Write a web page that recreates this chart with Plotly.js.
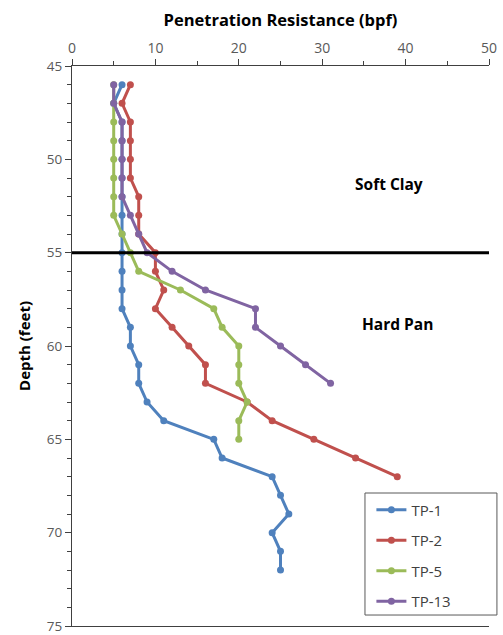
<!DOCTYPE html>
<html>
<head>
<meta charset="utf-8">
<script src="https://cdn.plot.ly/plotly-3.0.1.min.js"></script>
<style>html,body{margin:0;padding:0;background:#fff;}#chart{width:503px;height:635px;}</style>
</head>
<body>
<div id="chart"></div>
<script>
const seriesNames = ["TP-1", "TP-2", "TP-5", "TP-13"];
const seriesColors = ["#4F81BD", "#C0504D", "#9BBB59", "#8064A2"];

const tp1Depth = [46,47,48,49,50,51,52,53,54,55,56,57,58,59,60,61,62,63,64,65,66,67,68,69,70,71,72];
const tp1Blows = [6,5,6,6,6,6,6,6,6,6,6,6,6,7,7,8,8,9,11,17,18,24,25,26,24,25,25];

const tp2Depth = [46,47,48,49,50,51,52,53,54,55,56,57,58,59,60,61,62,63,64,65,66,67];
const tp2Blows = [7,6,7,7,7,7,8,8,8,10,10,11,10,12,14,16,16,21,24,29,34,39];

const tp5Depth = [46,47,48,49,50,51,52,53,54,55,56,57,58,59,60,61,62,63,64,65];
const tp5Blows = [5,5,5,5,5,5,5,5,6,7,8,13,17,18,20,20,20,21,20,20];

const tp13Depth = [46,47,48,49,50,51,52,53,54,55,56,57,58,59,60,61,62];
const tp13Blows = [5,5,6,6,6,6,6,7,8,9,12,16,22,22,25,28,31];

const boundaryDepth = 55;
const layerLabels = ["Soft Clay", "Hard Pan"];
const layerLabelX = [38, 39];
const layerLabelDepth = [51.3, 58.8];

const depths = [tp1Depth, tp2Depth, tp5Depth, tp13Depth];
const blows = [tp1Blows, tp2Blows, tp5Blows, tp13Blows];

const traces = seriesNames.map((n, i) => ({
  type: "scatter",
  mode: "lines+markers",
  name: n,
  legendgroup: n,
  x: blows[i],
  y: depths[i],
  line: {color: seriesColors[i], width: 3},
  marker: {color: seriesColors[i], size: 7}
}));

const fontFam = "'Open Sans', 'Liberation Sans', sans-serif";

const layout = {
  width: 503,
  height: 635,
  margin: {l: 72, r: 14, t: 66, b: 9},
  paper_bgcolor: "#ffffff",
  plot_bgcolor: "#ffffff",
  font: {family: fontFam, color: "#595959", size: 13},
  showlegend: true,
  legend: {
    x: 0.718, y: 0.2366, xanchor: "left", yanchor: "top",
    borderwidth: 0,
    bgcolor: "rgba(0,0,0,0)",
    font: {family: fontFam, size: 15, color: "#404040"},
    tracegroupgap: 8
  },
  xaxis: {
    side: "top",
    range: [0, 50],
    dtick: 10,
    tick0: 0,
    ticks: "outside",
    ticklen: 6,
    tickcolor: "#404040",
    showline: true,
    mirror: true,
    linecolor: "#404040",
    linewidth: 1,
    showgrid: false,
    zeroline: false,
    minor: {dtick: 5, ticks: "outside", ticklen: 4, tickcolor: "#404040"},
    tickfont: {family: fontFam, size: 14, color: "#595959"},
    title: {text: "Penetration Resistance (bpf)", font: {family: fontFam, size: 16.5, color: "#000000", weight: "bold"}, standoff: 7}
  },
  yaxis: {
    range: [75.0001, 45],
    dtick: 5,
    tick0: 45,
    ticks: "outside",
    ticklen: 6,
    tickcolor: "#404040",
    showline: true,
    linecolor: "#404040",
    linewidth: 1,
    showgrid: false,
    zeroline: false,
    ticklabeloverflow: "allow",
    minor: {dtick: 1, ticks: "outside", ticklen: 4, tickcolor: "#404040"},
    tickfont: {family: fontFam, size: 13.5, color: "#595959"},
    title: {text: "Depth (feet)", font: {family: fontFam, size: 15, color: "#000000", weight: "bold"}, standoff: 12}
  },
  shapes: [{
    type: "line", xref: "paper", x0: 0, x1: 1, yref: "y", y0: boundaryDepth, y1: boundaryDepth,
    line: {color: "#000000", width: 3}
  }, {
    type: "rect", xref: "paper", yref: "paper", x0: 0.7026, x1: 1.019, y0: 0.0196, y1: 0.2375,
    line: {color: "#595959", width: 1}, fillcolor: "rgba(255,255,255,1)", layer: "above"
  }],
  annotations: layerLabels.map((t, i) => ({
    text: t, x: layerLabelX[i], y: layerLabelDepth[i], xref: "x", yref: "y",
    showarrow: false, font: {family: fontFam, size: 15.5, color: "#000000", weight: "bold"}
  }))
};

Plotly.newPlot("chart", traces, layout, {displayModeBar: false, staticPlot: true});
</script>
</body>
</html>
